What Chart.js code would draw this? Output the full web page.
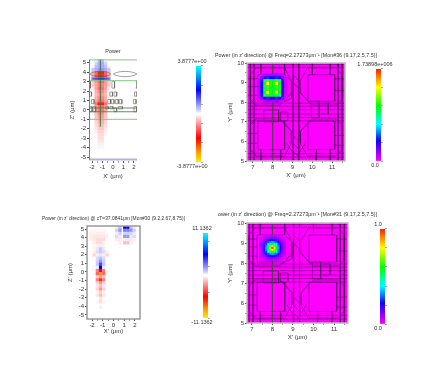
<!DOCTYPE html>
<html>
<head>
<meta charset="utf-8">
<script src="https://cdn.jsdelivr.net/npm/chart.js@4"></script>
<style>
html, body { margin: 0; padding: 0; background: #fff; overflow: hidden; }
#page { position: relative; width: 441px; height: 389px; filter: blur(0.6px); }
canvas { position: absolute; }
</style>
</head>
<body>
<div id="page"></div>
<script>
////////////////DATA//////////////////

// top left field, positive = blue, negative = red, tenths of the colorbar
const field1X = [-1.9, -1.6, -1.3, -1.0, -0.7, -0.4];
const field1Z = [5.25, 4.92, 4.59, 4.26, 3.93, 3.6, 3.27, 2.94, 2.61, 2.28, 1.95, 1.62, 1.29, 0.96, 0.63, 0.3, -0.03, -0.36, -0.69, -1.02, -1.35, -1.68, -2.01, -2.34, -2.67, -3, -3.33, -3.66, -3.99, -4.32, -4.65, -4.98];
const field1 = [
    [0, 0.3, 1.2, 1.2, 0.3, 0],
    [0, 0.8, 1.6, 1.6, 0.8, 0],
    [0.3, 1.2, 1.6, 1.6, 1.2, 0.3],
    [1, 1.5, 2, 2, 1.5, 1],
    [-1.5, -3, -4.5, -4.5, -3, -1.5],
    [-1.5, -3.5, -5.5, -5.5, -3.5, -1.5],
    [2.5, 3, 3.5, 3.5, 3, 2.5],
    [-1, -2, -3, -3, -2, -1],
    [-1, -1.8, -2.5, -2.5, -1.8, -1],
    [-0.5, -1.8, -2.8, -2.8, -1.8, -0.5],
    [-0.3, -1.5, -2.3, -2.3, -1.5, -0.3],
    [-0.3, -1.3, -1.9, -1.9, -1.3, -0.3],
    [-0.3, -1.5, -2.3, -2.3, -1.5, -0.3],
    [-0.2, -1.8, -2.8, -2.8, -1.8, -0.2],
    [0, -2.8, -4.5, -4.5, -2.8, 0],
    [0, -1.8, -2.8, -2.8, -1.8, 0],
    [0, -1.7, -2.6, -2.6, -1.7, 0],
    [0, -1.3, -2.2, -2.2, -1.3, 0],
    [0, -1.1, -1.9, -1.9, -1.1, 0],
    [0, -0.9, -1.6, -1.6, -0.9, 0],
    [0, -0.7, -1.4, -1.4, -0.7, 0],
    [0, -0.6, -1.2, -1.2, -0.6, 0],
    [0, -0.5, -1, -1, -0.5, 0],
    [0, -0.4, -0.8, -0.8, -0.4, 0],
    [0, -0.3, -0.7, -0.7, -0.3, 0],
    [0, -0.2, -0.6, -0.6, -0.1, 0],
    [0, -0.1, -0.5, -0.5, 0, 0],
    [0, 0, -0.4, -0.4, 0, 0],
    [0, 0, -0.3, -0.3, 0, 0],
    [0, 0, -0.2, -0.2, 0, 0],
    [0, 0, 0, 0, 0, 0],
    [0, 0, 0, 0, 0, 0]
];

// top left structure, polylines as x,z,x,z
const greenDark1 = [
    [-1.2, 5.3, -1.2, -1.8],
    [-2.29, 0.2, 2.29, 0.2],
    [-2.29, -0.2, 2.29, -0.2],
    [-2.25, 5.3, -2.25, -5.3]
];
const greenLight1 = [
    [-2.29, -1, 2.29, -1],
    [-2.29, 5.3, 2.29, 5.3],
    [-2.29, 3.1, 2.29, 3.1]
];
const lavender1 = [
    [-2.29, -5.25, 2.29, -5.25]
];
const blue1 = [
    [-1.9, 3.3, -0.4, 3.3]
];
const gray1 = [
    [-2.2, 3.8, -2, 3.95, -1.6, 4.05, -1.2, 4.08, -0.8, 4.05, -0.4, 3.95, -0.2, 3.8, -0.4, 3.65, -0.8, 3.55, -1.2, 3.52, -1.6, 3.55, -2, 3.65, -2.2, 3.8],
    [0.05, 3.8, 0.3, 3.95, 0.7, 4.05, 1.15, 4.08, 1.6, 4.05, 2, 3.95, 2.28, 3.8, 2, 3.65, 1.6, 3.55, 1.15, 3.52, 0.7, 3.55, 0.3, 3.65, 0.05, 3.8],
    [-0.1, 3.05, 0.15, 3.05, 0.15, 2.3, -0.1, 2.3, -0.1, 3.05],
    [2.15, 3.05, 2.29, 3.05, 2.29, 2.3, 2.15, 2.3],
    [-2.29, 3.05, -2.15, 3.05, -2.15, 2.3, -2.29, 2.3],
    [-2.29, 1.9, -2.05, 1.9, -2.05, 1.45, -2.29, 1.45, -2.29, 1.9],
    [-0.3, 1.9, -0.05, 1.9, -0.05, 1.45, -0.3, 1.45, -0.3, 1.9],
    [0.1, 1.9, 0.35, 1.9, 0.35, 1.45, 0.1, 1.45, 0.1, 1.9],
    [2.05, 1.9, 2.29, 1.9, 2.29, 1.45, 2.05, 1.45, 2.05, 1.9],
    [-2.05, 1.1, -1.8, 1.1, -1.8, 0.65, -2.05, 0.65, -2.05, 1.1],
    [-0.5, 1.1, -0.25, 1.1, -0.25, 0.65, -0.5, 0.65, -0.5, 1.1],
    [-0.15, 1.1, 0.1, 1.1, 0.1, 0.65, -0.15, 0.65, -0.15, 1.1],
    [0.25, 1.1, 0.5, 1.1, 0.5, 0.65, 0.25, 0.65, 0.25, 1.1],
    [0.6, 1.1, 0.85, 1.1, 0.85, 0.65, 0.6, 0.65, 0.6, 1.1],
    [1.95, 1.1, 2.2, 1.1, 2.2, 0.65, 1.95, 0.65, 1.95, 1.1],
    [-2.25, 0.35, -2, 0.35, -2, -0.2, -2.25, -0.2, -2.25, 0.35],
    [-1.9, 0.35, -1.65, 0.35, -1.65, -0.2, -1.9, -0.2, -1.9, 0.35],
    [-0.7, 0.35, -0.45, 0.35, -0.45, 0.1, -0.7, 0.1, -0.7, 0.35],
    [-0.3, 0.35, 0, 0.35, 0, 0.1, -0.3, 0.1, -0.3, 0.35],
    [0.1, 0.2, 0.35, 0.2, 0.35, -0.2, 0.1, -0.2, 0.1, 0.2],
    [0.5, 0.35, 0.9, 0.35, 0.9, 0.1, 0.5, 0.1, 0.5, 0.35],
    [2, 0.35, 2.25, 0.35, 2.25, -0.2, 2, -0.2, 2, 0.35]
];

// bottom left field
const field3X = [-2.4, -2.1, -1.8, -1.5, -1.2, -0.9, -0.6, -0.3, 0, 0.3, 0.6, 1.05, 1.35, 1.65, 1.95, 2.25];
const field3Z = [5.2, 4.84, 4.48, 4.12, 3.76, 3.4, 3.04, 2.68, 2.32, 1.96, 1.6, 1.24, 0.88, 0.52, 0.16, -0.2, -0.56, -0.92, -1.28, -1.64, -2, -2.36, -2.72, -3.08, -3.44, -3.8, -4.16, -4.52];
const field3 = [
    [0, 0, 0.2, 0, 0.2, 0, 0, 0, 0, 0.4, 1.2, 5, 5, 1.2, 0.4, 0],
    [-0.2, -0.3, -0.3, -0.3, -0.3, -0.3, -0.2, -0.1, 0, 0.8, 2, 2.5, 2.5, 2, 0.8, 0],
    [-0.3, -0.4, -0.4, -0.4, -0.4, -0.4, -0.3, -0.2, 0, 0.4, 0.8, 0.8, 0.8, 0.8, 0.4, 0],
    [-0.3, -0.4, -0.5, -0.5, -0.5, -0.5, -0.4, -0.2, 0, 0.6, 0.4, 2, 2, 0.4, 0.6, 0],
    [-0.3, -0.4, -0.5, -0.6, -0.6, -0.6, -0.3, -0.1, 0, -0.4, -0.5, 0.4, 0.4, -0.5, -0.4, 0],
    [0, -0.2, -0.4, -0.6, -0.6, -0.4, -0.2, 0, 0, 0, -0.4, -1.2, -1.2, -0.4, 0, 0],
    [0, 0, -0.3, -0.4, -0.4, -0.4, -0.1, 0, 0, 0, 0, 0, 0, 0, 0, 0],
    [0, 0, -0.3, 0.5, 1, 0.5, -0.2, 0, 0, 0, 0, 0, 0, 0, 0, 0],
    [0, 0, -0.4, 0.6, 1, 0.6, -0.4, 0, 0, 0, 0, 0, 0, 0, 0, 0],
    [0, 0, -0.8, -0.4, 0.5, -0.4, -0.8, 0, 0, 0, 0, 0, 0, 0, 0, 0],
    [0, 0, -0.2, 0.7, 1.2, 0.7, -0.2, 0, 0, 0, 0, 0, 0, 0, 0, 0],
    [0, 0, 0, 0.8, 2, 0.8, 0, 0, 0, 0, 0, 0, 0, 0, 0, 0],
    [0, 0, -0.2, 1, 3.5, 1, -0.2, 0, 0, 0, 0, 0, 0, 0, 0, 0],
    [0, 0, -0.3, 0.4, 5, 0.4, -0.3, 0, 0, 0, 0, 0, 0, 0, 0, 0],
    [0, 0, -0.3, -2.5, -5, -2.5, -0.3, 0, 0, 0, 0, 0, 0, 0, 0, 0],
    [0, 0, -0.3, -3, -8, -3, -0.3, 0, 0, 0, 0, 0, 0, 0, 0, 0],
    [0, 0, -0.2, -1, -2, -1, -0.2, 0, 0, 0, 0, 0, 0, 0, 0, 0],
    [0, 0, -0.2, -2.5, -6, -2.5, -0.2, 0, 0, 0, 0, 0, 0, 0, 0, 0],
    [0, 0, 0, -0.8, -2, -0.8, 0, 0, 0, 0, 0, 0, 0, 0, 0, 0],
    [0, 0, 0, -0.5, -1.2, -0.5, 0, 0, 0, 0, 0, 0, 0, 0, 0, 0],
    [0, 0, 0, -0.8, -2, -0.8, 0, 0, 0, 0, 0, 0, 0, 0, 0, 0],
    [0, 0, 0, -0.3, -0.8, -0.3, 0, 0, 0, 0, 0, 0, 0, 0, 0, 0],
    [0, 0, 0, -0.5, -1.2, -0.5, 0, 0, 0, 0, 0, 0, 0, 0, 0, 0],
    [0, 0, 0, -0.2, -0.5, -0.2, 0, 0, 0, 0, 0, 0, 0, 0, 0, 0],
    [0, 0, 0, -0.3, -0.6, -0.3, 0, 0, 0, 0, 0, 0, 0, 0, 0, 0],
    [0, 0, 0, -0.1, -0.3, -0.1, 0, 0, 0, 0, 0, 0, 0, 0, 0, 0],
    [0, 0, 0, -0.1, -0.4, -0.1, 0, 0, 0, 0, 0, 0, 0, 0, 0, 0],
    [0, 0, 0, 0, -0.2, 0, 0, 0, 0, 0, 0, 0, 0, 0, 0, 0]
];

// top right blob, tenths of the colorbar
const field2X = [7.3, 7.45, 7.6, 7.75, 7.9, 8.05, 8.2, 8.35, 8.5, 8.65];
const field2Y = [9.4, 9.25, 9.1, 8.95, 8.8, 8.65, 8.5, 8.35, 8.2, 8.05];
const field2 = [
    [0, 0.3, 0.6, 0.9, 0.7, 0.7, 0.9, 0.6, 0.3, 0],
    [0.3, 1.2, 2, 2.5, 2.2, 2.2, 2.5, 2, 1.2, 0.3],
    [0.5, 2, 5, 6.5, 5.5, 5.5, 6.5, 5, 2, 0.4],
    [0.6, 2.2, 6, 8, 6.2, 6.2, 8, 6, 2.2, 0.5],
    [0.6, 2.2, 5.5, 6.5, 5.8, 5.8, 6.5, 5.5, 2.2, 0.5],
    [0.6, 2.2, 5.5, 6.3, 5.7, 5.7, 6.3, 5.5, 2.2, 0.5],
    [0.6, 2.2, 6, 8, 6.2, 6.2, 8, 6, 2.2, 0.5],
    [0.5, 2, 5, 6.2, 5.5, 5.5, 6.2, 5, 2, 0.4],
    [0.3, 1.2, 2, 2.5, 2.2, 2.2, 2.5, 2, 1.2, 0.3],
    [0, 0.3, 0.6, 0.9, 0.7, 0.7, 0.9, 0.6, 0.3, 0]
];

// bottom right blob
const field4X = [7.4, 7.5, 7.6, 7.7, 7.8, 7.9, 8, 8.1, 8.2, 8.3, 8.4, 8.5, 8.6];
const field4Y = [9.35, 9.25, 9.15, 9.05, 8.95, 8.85, 8.75, 8.65, 8.55, 8.45, 8.35, 8.25, 8.15];
const field4 = [
    [0.1, 0.2, 0.3, 0.5, 0.6, 0.6, 0.7, 0.6, 0.6, 0.5, 0.3, 0.2, 0.1],
    [0.2, 0.4, 0.6, 0.8, 1, 1.1, 1.2, 1.1, 1, 0.8, 0.6, 0.4, 0.2],
    [0.3, 0.6, 0.9, 1.2, 1.7, 2.1, 2.2, 2.1, 1.7, 1.2, 0.9, 0.6, 0.3],
    [0.5, 0.8, 1.2, 2, 2.7, 3.2, 3.5, 3.2, 2.7, 2, 1.2, 0.8, 0.5],
    [0.6, 1, 1.7, 2.7, 4, 5, 5.5, 5, 4, 2.7, 1.7, 1, 0.6],
    [0.6, 1.1, 2.1, 3.2, 5, 7, 8, 7, 5, 3.2, 2.1, 1.1, 0.6],
    [0.7, 1.2, 2.2, 3.5, 5.5, 8, 10, 8, 5.5, 3.5, 2.2, 1.2, 0.7],
    [0.6, 1.1, 2.1, 3.2, 5, 7, 8, 7, 5, 3.2, 2.1, 1.1, 0.6],
    [0.6, 1, 1.7, 2.7, 4, 5, 5.5, 5, 4, 2.7, 1.7, 1, 0.6],
    [0.5, 0.8, 1.2, 2, 2.7, 3.2, 3.5, 3.2, 2.7, 2, 1.2, 0.8, 0.5],
    [0.3, 0.6, 0.9, 1.2, 1.7, 2.1, 2.2, 2.1, 1.7, 1.2, 0.9, 0.6, 0.3],
    [0.2, 0.4, 0.6, 0.8, 1, 1.1, 1.2, 1.1, 1, 0.8, 0.6, 0.4, 0.2],
    [0.1, 0.2, 0.3, 0.5, 0.6, 0.6, 0.7, 0.6, 0.6, 0.5, 0.3, 0.2, 0.1]
];

// right hand panels share one layout, polylines as x,y,x,y
const layoutLong = [
    [6.6, 9.93, 11.7, 9.93], [6.6, 9.78, 11.7, 9.78],
    [6.6, 7.95, 11.7, 7.95], [6.6, 7.8, 11.7, 7.8], [6.6, 7.62, 11.7, 7.62],
    [6.6, 7.4, 11.7, 7.4], [6.6, 7.22, 11.7, 7.22], [6.6, 7.05, 11.7, 7.05],
    [6.6, 5.38, 11.7, 5.38], [6.6, 5.2, 11.7, 5.2],
    [6.87, 10, 6.87, 5], [7.05, 10, 7.05, 5], [11.3, 10, 11.3, 5], [11.5, 10, 11.5, 5],
    [9.03, 10, 9.03, 5], [9.32, 10, 9.32, 5]
];
const layoutGrayLine = [
    [8, 10, 8, 5]
];
const layoutShapes = [
    // inner pads
    [7.25, 9.4, 8.6, 9.4, 8.95, 9.05, 8.95, 8.2, 8.6, 8.05, 7.25, 8.05, 7.25, 9.4],
    [9.78, 9.4, 11.13, 9.4, 11.13, 8.05, 9.78, 8.05, 9.78, 9.4],
    [9.78, 7.03, 11.13, 7.03, 11.13, 5.58, 9.78, 5.58, 9.78, 7.03],
    [7.25, 7.03, 8.6, 7.03, 8.6, 5.58, 7.25, 5.58, 7.25, 7.03],
    // outer octagons
    [9.4, 9.1, 9.75, 9.75, 11.2, 9.75, 11.5, 9.4, 11.5, 8.15, 11.2, 7.85, 10, 7.85, 9.4, 8.5, 9.4, 9.1],
    [8.94, 9.1, 8.6, 9.75, 7.15, 9.75, 6.87, 9.4, 6.87, 8.15, 7.15, 7.85, 8.35, 7.85, 8.94, 8.5, 8.94, 9.1],
    [9.4, 5.9, 9.75, 5.25, 11.2, 5.25, 11.5, 5.6, 11.5, 6.85, 11.2, 7.15, 10, 7.15, 9.4, 6.5, 9.4, 5.9],
    [8.94, 5.9, 8.6, 5.25, 7.15, 5.25, 6.87, 5.6, 6.87, 6.85, 7.15, 7.15, 8.35, 7.15, 8.94, 6.5, 8.94, 5.9],
    // cross in the middle
    [9.03, 8.55, 8.5, 7.95], [9.32, 8.55, 9.85, 7.95], [9.03, 6.45, 8.5, 7.05], [9.32, 6.45, 9.85, 7.05],
    [9.03, 9.4, 9.32, 9.1], [9.03, 9, 9.32, 8.7], [9.03, 6.3, 9.32, 6], [9.03, 5.9, 9.32, 5.6],
    [9.03, 5.5, 9.32, 5.2], [8.7, 5.9, 9.03, 5.4], [9.32, 5.4, 9.65, 5.9],
    // small blocks
    [9.95, 8.05, 10.35, 8.05, 10.35, 7.22, 9.95, 7.22, 9.95, 8.05],
    [10.45, 7.95, 10.8, 7.95, 10.8, 7.4, 10.45, 7.4],
    [7.55, 7.6, 8.3, 7.6, 8.3, 7, 7.55, 7, 7.55, 7.6],
    [8.4, 7.5, 8.75, 7.5, 8.75, 7.05, 8.4, 7.05, 8.4, 7.5],
    // stubs at the border
    [6.7, 9.2, 7.25, 9.2], [6.7, 8.8, 7.25, 8.8], [6.7, 8.35, 7.25, 8.35], [11.13, 9.2, 11.65, 9.2], [11.13, 8.6, 11.65, 8.6],
    [6.7, 6.4, 7.25, 6.4], [6.7, 5.9, 7.25, 5.9], [11.13, 6.3, 11.65, 6.3], [11.13, 5.8, 11.65, 5.8],
    [7.4, 10, 7.4, 9.4], [8.6, 10, 8.6, 9.4], [10, 10, 10, 9.4], [10.9, 10, 10.9, 9.4],
    [7.4, 5.58, 7.4, 5], [8.4, 5.58, 8.4, 5], [10.2, 5.58, 10.2, 5], [10.9, 5.58, 10.9, 5]
];

// ticks
const ticksX1 = [-2, -1.5, -1, -0.5, 0, 0.5, 1, 1.5, 2];
const ticksZ = [-5, -4, -3, -2, -1, 0, 1, 2, 3, 4, 5];
const ticksXY = [7, 7.5, 8, 8.5, 9, 9.5, 10, 10.5, 11, 11.5];
const ticksY = [5, 5.5, 6, 6.5, 7, 7.5, 8, 8.5, 9, 9.5, 10];

// colorbars, [position, colour]
const redBlueStops = [[0, "#ffee00"], [0.12, "#ff8c00"], [0.25, "#ff0000"], [0.47, "#ffdcdc"], [0.49, "#ffffff"], [0.51, "#ffffff"], [0.53, "#dcdcff"], [0.75, "#0000ff"], [0.88, "#0090ff"], [1, "#00ffff"]];
const rainbowStops = [[0, "#ff00ff"], [0.22, "#1000ff"], [0.4, "#00ffff"], [0.6, "#00ff00"], [0.8, "#ffff00"], [1, "#ff2000"]];

////////////////HELPERS//////////////////

function stopColor(stops, pos) {
    for (let i = 1; i < stops.length; i++) {
        if (pos <= stops[i][0]) {
            const t = (pos - stops[i - 1][0]) / (stops[i][0] - stops[i - 1][0]);
            const a = stops[i - 1][1], b = stops[i][1];
            let out = [];
            for (let k = 1; k < 7; k += 2) {
                const ca = parseInt(a.substr(k, 2), 16), cb = parseInt(b.substr(k, 2), 16);
                out.push(Math.round(ca + (cb - ca) * t));
            }
            return "rgb(" + out.join(",") + ")";
        }
    }
    return stops[stops.length - 1][1];
}

function heatDataset(xs, ys, rows, colorOf, radius, order) {
    let pts = [], cols = [];
    rows.forEach((row, j) => row.forEach((v, i) => {
        if (v !== 0) {
            pts.push({ x: xs[i], y: ys[j] });
            cols.push(colorOf(v));
        }
    }));
    return {
        type: "scatter", data: pts, pointStyle: "rect", pointRadius: radius, pointBorderWidth: 0,
        pointBackgroundColor: cols, order: order
    };
}

function lineDataset(lines, color, width, order) {
    let pts = [];
    lines.forEach(l => {
        for (let i = 0; i < l.length; i += 2) pts.push({ x: l[i], y: l[i + 1] });
        pts.push({ x: NaN, y: NaN });
    });
    return {
        type: "scatter", data: pts, showLine: true, spanGaps: false, pointRadius: 0,
        borderColor: color, borderWidth: width, order: order
    };
}

const framePlugin = {
    id: "frame",
    beforeDatasetsDraw(chart, args, opts) {
        if (!opts.fill) return;
        const a = chart.chartArea;
        chart.ctx.fillStyle = opts.fill;
        chart.ctx.fillRect(a.left, a.top, a.width, a.height);
    },
    afterDatasetsDraw(chart, args, opts) {
        if (!opts.stroke) return;
        const a = chart.chartArea;
        chart.ctx.strokeStyle = opts.stroke;
        chart.ctx.lineWidth = opts.width;
        chart.ctx.strokeRect(a.left, a.top, a.width, a.height);
    }
};

function addCanvas(left, top, width, height) {
    const c = document.createElement("canvas");
    c.width = width;
    c.height = height;
    c.style.left = left + "px";
    c.style.top = top + "px";
    document.getElementById("page").appendChild(c);
    return c;
}

// empty axis, only there to reserve a gutter so titles stay centred on the whole canvas
function gutterAxis(position, size) {
    return {
        type: "linear", position: position, display: true,
        afterFit: ax => { ax.width = size; },
        ticks: { display: false },
        grid: { display: false },
        border: { display: false }
    };
}

function axisOptions(range, tickList, titleText, horizontal, size, titlePad) {
    const pad = horizontal ? { bottom: titlePad, top: 0 } : { top: titlePad, bottom: 0 };
    return {
        type: "linear", min: range[0], max: range[1],
        position: horizontal ? "bottom" : "left",
        afterBuildTicks: ax => { ax.ticks = tickList.map(v => ({ value: v })); },
        afterFit: ax => { if (horizontal) ax.height = size; else ax.width = size; },
        ticks: {
            autoSkip: false, maxRotation: 0, padding: 1, color: "#333",
            font: { family: "Liberation Sans", size: 6 },
            callback: v => Number.isInteger(v) ? String(v) : ""
        },
        grid: {
            drawOnChartArea: false, tickLength: 2,
            tickColor: c => Number.isInteger(c.tick.value) ? "#555" : "#999"
        },
        border: { display: false },
        title: {
            display: true, text: titleText, color: "#333", padding: pad,
            font: { family: "Liberation Sans", size: 6, lineHeight: 1.17 }
        }
    };
}

function makePlot(p) {
    const titleH = 7 + p.titleGap;
    const c = addCanvas(p.left - p.margin, p.top - titleH, p.width + 2 * p.margin, titleH + p.height + p.bottomH);
    new Chart(c, {
        type: "scatter",
        data: { datasets: p.datasets },
        options: {
            responsive: false, animation: false, events: [],
            layout: { autoPadding: false },
            scales: {
                x: axisOptions(p.xRange, p.xTicks, p.xTitle, true, p.bottomH, p.xPad),
                y: axisOptions(p.yRange, p.yTicks, p.yTitle, false, p.margin, p.margin - 20),
                gutter: gutterAxis("right", p.margin)
            },
            plugins: {
                legend: { display: false },
                tooltip: { enabled: false },
                title: {
                    display: true, text: p.title, color: "#333",
                    padding: { top: 0, bottom: p.titleGap },
                    font: { family: "Liberation Sans", size: 5.4, weight: "normal", lineHeight: 1.3 }
                },
                frame: p.frame
            }
        },
        plugins: [framePlugin]
    });
}

function makeBar(b) {
    const c = addCanvas(b.labelLeft, b.top - 8, b.labelWidth, b.height + 16);
    const stops = b.stops;
    new Chart(c, {
        type: "bar",
        data: {
            labels: ["bar"],
            datasets: [{
                data: [[b.min, b.max]],
                barPercentage: 1, categoryPercentage: 1,
                backgroundColor: ctx => {
                    const a = ctx.chart.chartArea;
                    if (!a) return "#fff";
                    const g = ctx.chart.ctx.createLinearGradient(0, a.bottom, 0, a.top);
                    stops.forEach(s => g.addColorStop(s[0], s[1]));
                    return g;
                }
            }]
        },
        options: {
            responsive: false, animation: false, events: [],
            layout: { autoPadding: false },
            scales: {
                x: { display: false },
                y: {
                    min: b.min, max: b.max, position: "right",
                    afterFit: ax => { ax.width = b.labelLeft + b.labelWidth - b.left - b.width; },
                    ticks: { count: 11, padding: 0, callback: () => "" },
                    grid: { drawOnChartArea: false, tickLength: 2, tickColor: "#aaa" },
                    border: { display: false }
                },
                gutter: gutterAxis("left", b.left - b.labelLeft)
            },
            plugins: {
                legend: { display: false },
                tooltip: { enabled: false },
                title: {
                    display: true, text: b.topLabel, color: "#333", padding: { top: 0, bottom: 1 },
                    font: { family: "Liberation Sans", size: 5.5, weight: "normal", lineHeight: 1.27 }
                },
                subtitle: {
                    display: true, text: b.bottomLabel, color: "#333", position: "bottom", padding: { top: 1, bottom: 0 },
                    font: { family: "Liberation Sans", size: 5.5, weight: "normal", lineHeight: 1.27 }
                }
            }
        }
    });
}

const redBlue = v => stopColor(redBlueStops, (v / 10 + 1) / 2);
const rainbow = v => stopColor(rainbowStops, v / 10);

////////////////THE FOUR PANELS//////////////////

makePlot({
    left: 89, top: 59, width: 48, height: 102, margin: 30, titleGap: 4, bottomH: 20, xPad: 1.5,
    xRange: [-2.29, 2.29], yRange: [-5.42, 5.39], xTicks: ticksX1, yTicks: ticksZ,
    title: "Power", xTitle: "X' (μm)", yTitle: "Z' (μm)",
    frame: {},
    datasets: [
        lineDataset(greenDark1, "rgba(50,120,50,0.8)", 1.1, 1),
        lineDataset(blue1, "rgba(30,30,180,0.6)", 0.7, 2),
        lineDataset(greenLight1, "rgba(130,200,130,0.8)", 1.2, 3),
        lineDataset(lavender1, "rgba(170,170,225,0.9)", 2, 4),
        lineDataset(gray1, "rgba(100,100,90,0.85)", 0.7, 5),
        heatDataset(field1X, field1Z, field1, redBlue, 2.4, 6)
    ]
});

makePlot({
    left: 247, top: 63, width: 98, height: 98, margin: 32, titleGap: 4, bottomH: 20, xPad: 2.5,
    xRange: [6.7, 11.65], yRange: [5, 10], xTicks: ticksXY, yTicks: ticksY,
    title: "Power (in z' direction) @ Freq=2.27273μm⁻¹ [Mon#36 (9.17,2.5,7.5)]", xTitle: "X' (μm)", yTitle: "Y' (μm)",
    frame: { fill: "#ff00ff", stroke: "#bbb", width: 1.5 },
    datasets: [
        heatDataset(field2X, field2Y, field2, rainbow, 2.2, 1),
        lineDataset(layoutGrayLine, "rgba(70,70,70,0.6)", 1, 2),
        lineDataset(layoutShapes, "rgba(25,0,40,0.65)", 0.6, 3),
        lineDataset(layoutLong, "rgba(25,0,40,0.65)", 0.6, 4)
    ]
});

makePlot({
    left: 87, top: 226, width: 53, height: 93, margin: 45, titleGap: 4, bottomH: 20, xPad: 3.8,
    xRange: [-2.47, 2.47], yRange: [-5.47, 5.35], xTicks: ticksX1, yTicks: ticksZ,
    title: "Power (in z' direction) @ cT=37.0841μm [Mon#30 (9.2,2.67,8.75)]", xTitle: "X' (μm)", yTitle: "Z' (μm)",
    frame: { stroke: "#999", width: 1.5 },
    datasets: [
        heatDataset(field3X, field3Z, field3, redBlue, 2.4, 1)
    ]
});

makePlot({
    left: 247, top: 223, width: 101, height: 100, margin: 31, titleGap: 5, bottomH: 20, xPad: 1.8,
    xRange: [6.76, 11.68], yRange: [5, 10], xTicks: ticksXY, yTicks: ticksY,
    title: "ower (in z' direction) @ Freq=2.27273μm⁻¹ [Mon#31 (9.17,2.5,7.5)]", xTitle: "X' (μm)", yTitle: "Y' (μm)",
    frame: { fill: "#ff00ff", stroke: "#bbb", width: 1.5 },
    datasets: [
        heatDataset(field4X, field4Y, field4, rainbow, 1.6, 1),
        lineDataset(layoutGrayLine, "rgba(70,70,70,0.6)", 1, 2),
        lineDataset(layoutShapes, "rgba(25,0,40,0.6)", 0.6, 3),
        lineDataset(layoutLong, "rgba(25,0,40,0.6)", 0.6, 4)
    ]
});

makeBar({ left: 196, top: 66, width: 5, height: 96, labelLeft: 176, labelWidth: 32, min: -3.8777, max: 3.8777, stops: redBlueStops, topLabel: "3.8777e+00", bottomLabel: "-3.8777e+00" });
makeBar({ left: 376, top: 69, width: 5, height: 92, labelLeft: 355, labelWidth: 40, min: 0, max: 1738980, stops: rainbowStops, topLabel: "1.73898e+006", bottomLabel: "0.0" });
makeBar({ left: 203, top: 233, width: 5, height: 85, labelLeft: 188, labelWidth: 28, min: -11.1362, max: 11.1362, stops: redBlueStops, topLabel: "11.1362", bottomLabel: "-11.1362" });
makeBar({ left: 380, top: 229, width: 5, height: 95, labelLeft: 368, labelWidth: 20, min: 0, max: 1, stops: rainbowStops, topLabel: "1.0", bottomLabel: "0.0" });
</script>
</body>
</html>
